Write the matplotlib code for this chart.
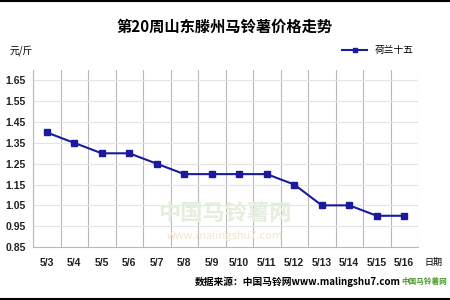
import matplotlib

matplotlib.use("Agg")
import matplotlib.pyplot as plt
import numpy as np

plt.rcParams["font.family"] = ["Noto Sans CJK SC", "DejaVu Sans"]

dates = ["5/3", "5/4", "5/5", "5/6", "5/7", "5/8", "5/9", "5/10",
         "5/11", "5/12", "5/13", "5/14", "5/15", "5/16"]
prices = [1.40, 1.35, 1.30, 1.30, 1.25, 1.20, 1.20, 1.20,
          1.20, 1.15, 1.05, 1.05, 1.00, 1.00]
yticks = [0.85, 0.95, 1.05, 1.15, 1.25, 1.35, 1.45, 1.55, 1.65]

fig = plt.figure(figsize=(4.5, 3), dpi=100)
ax = fig.add_axes([33 / 450, 1 - 247 / 300, 385 / 450, 177 / 300])

x = np.arange(len(dates))
ax.plot(x, prices, color="#1a1a9e", linewidth=1.5, marker="s", markersize=3.8,
        label="荷兰十五", zorder=3)

tick_font = {"family": "Liberation Sans", "weight": "bold", "size": 7.5}
ax.set_xlim(-0.5, len(dates) - 0.5)
ax.set_ylim(0.85, 1.70)
ax.set_yticks(yticks)
ax.set_yticklabels([f"{v:.2f}" for v in yticks], fontdict=tick_font, color="#222222")
ax.set_xticks(x)
ax.set_xticklabels(dates, fontdict=tick_font, color="#222222")
ax.tick_params(length=0, pad=8)
ax.tick_params(axis="y", pad=5)

# category gridlines between points
for b in np.arange(-0.5, len(dates) + 0.5, 1):
    ax.axvline(b, color="#b8b8b8", linewidth=0.8, zorder=1)
for v in yticks:
    ax.axhline(v, color="#e4e4e4", linewidth=0.8, zorder=1)

for s in ["top", "right"]:
    ax.spines[s].set_visible(False)
ax.spines["left"].set_color("#b8b8b8")
ax.spines["bottom"].set_color("#b8b8b8")

fig.text(0.5, 1 - 27 / 300, "第20周山东滕州马铃薯价格走势", ha="center", va="center",
         fontsize=11, fontweight="bold")
fig.text(10 / 450, 1 - 51 / 300, "元/斤", ha="left", va="center", fontsize=7)
fig.text(424 / 450, 1 - 262 / 300, "日期", ha="left", va="center", fontsize=6.5)
fig.text(195 / 450, 1 - 282 / 300, "数据来源：中国马铃网www.malingshu7.com", ha="left",
         va="center", fontsize=7, fontweight="bold")

# watermark
fig.text(0.5, 1 - 213 / 300, "中国马铃薯网", ha="center", va="center", fontsize=16,
         color="#e4eedf", fontweight="bold", zorder=0)
fig.text(0.5, 1 - 236 / 300, "www.malingshu7.com", ha="center", va="center", fontsize=8,
         color="#f3e3cf", style="italic", zorder=0)
fig.text(447 / 450, 1 - 281 / 300, "中国马铃薯网", ha="right", va="center", fontsize=5.5,
         color="#4a9a2a", fontweight="bold")

leg = fig.legend(loc="center", bbox_to_anchor=(378 / 450, 1 - 50 / 300), frameon=False,
                 fontsize=7, handlelength=2.6, markerscale=0.6)

fig.add_artist(plt.Line2D([0, 1], [0.997, 0.997], color="black", linewidth=1.5))
fig.add_artist(plt.Line2D([0, 1], [0.004, 0.004], color="black", linewidth=1.5))

fig.savefig("out.png", dpi=100)
